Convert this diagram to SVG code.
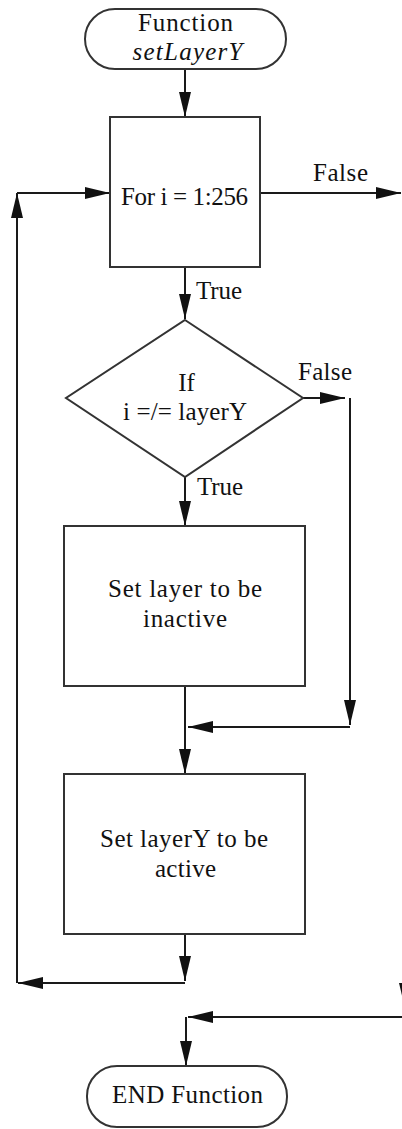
<svg xmlns="http://www.w3.org/2000/svg" width="402" height="1129" viewBox="0 0 402 1129">
  <style>
    .shape { fill: #ffffff; stroke: #333333; stroke-width: 2; }
    .wire { fill: none; stroke: #1a1a1a; stroke-width: 2; }
    .arrow { marker-end: url(#head); }
    text { font-family: "Liberation Serif", "Times New Roman", serif; font-size: 25px; fill: #111111; }
    .c { text-anchor: middle; }
    .it { font-style: italic; }
  </style>
  <defs>
    <marker id="head" markerUnits="userSpaceOnUse" viewBox="-26 -7 27 14" refX="0" refY="0" markerWidth="27" markerHeight="14" orient="auto">
      <path d="M0,0 L-25,-6 L-25,6 Z" fill="#111111"/>
    </marker>
  </defs>

  <!-- connectors -->
  <g id="connectors">
    <path class="wire arrow" d="M185,69 L185,117"/>
    <path class="wire arrow" d="M260,193 L401,193"/>
    <path class="wire arrow" d="M185,267 L185,319"/>
    <path class="wire arrow" d="M303,398 L345,398"/>
    <path class="wire arrow" d="M350,398 L350,725"/>
    <path class="wire arrow" d="M350,727 L188,727"/>
    <path class="wire arrow" d="M185,477 L185,526"/>
    <path class="wire arrow" d="M185,686 L185,774"/>
    <path class="wire arrow" d="M185,934 L185,981"/>
    <path class="wire arrow" d="M185,983 L18,983"/>
    <path class="wire arrow" d="M17,983 L17,193"/>
    <path class="wire arrow" d="M17,193 L110,193"/>
    <path class="wire arrow" d="M405,960 L405,1008"/>
    <path class="wire arrow" d="M410,1017 L188,1017"/>
    <path class="wire arrow" d="M186,1017 L186,1066"/>
    <text x="340.5" y="181" class="c" textLength="55">False</text>
    <text x="196" y="299" textLength="46">True</text>
    <text x="325" y="380" class="c" textLength="54">False</text>
    <text x="197" y="495" textLength="46">True</text>
  </g>

  <!-- start terminal -->
  <g id="start">
    <rect class="shape" x="85" y="9" width="201" height="60" rx="30" ry="30"/>
    <text x="185.5" y="31" class="c" textLength="95">Function</text>
    <text x="187.5" y="60" class="c it" textLength="110">setLayerY</text>
  </g>

  <!-- loop header -->
  <g id="loop">
    <rect class="shape" x="110" y="117" width="150" height="150"/>
    <text x="184.5" y="205" class="c" textLength="127">For i = 1:256</text>
  </g>

  <!-- comparison -->
  <g id="decision">
    <polygon class="shape" points="185,320 303,398 185,477 66,398"/>
    <text x="186.5" y="391" class="c">If</text>
    <text x="185" y="420" class="c" textLength="124">i =/= layerY</text>
  </g>

  <!-- deactivate -->
  <g id="deactivate">
    <rect class="shape" x="64" y="526" width="241" height="160"/>
    <text x="185" y="597" class="c" textLength="154">Set layer to be</text>
    <text x="185" y="627" class="c" textLength="84">inactive</text>
  </g>

  <!-- activate -->
  <g id="activate">
    <rect class="shape" x="64" y="774" width="241" height="160"/>
    <text x="184" y="847" class="c" textLength="168">Set layerY to be</text>
    <text x="185.5" y="877" class="c" textLength="61">active</text>
  </g>

  <!-- end terminal -->
  <g id="end">
    <rect class="shape" x="87" y="1066" width="200" height="61" rx="30" ry="30"/>
    <text x="187.5" y="1103" class="c" textLength="151">END Function</text>
  </g>
</svg>
